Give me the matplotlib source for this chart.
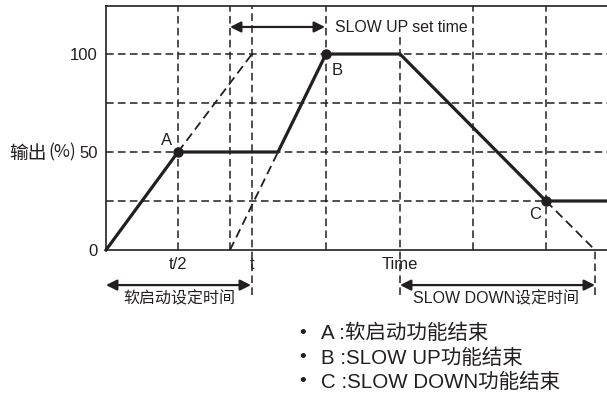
import matplotlib
matplotlib.use("Agg")
import matplotlib.pyplot as plt

plt.rcParams['font.family'] = ['Liberation Sans', 'Noto Sans CJK SC', 'DejaVu Sans']

INK = '#231f20'

# ---- data (arbitrary time units, output in %) ----
main_x = [0, 7.2, 17.2, 22.0, 29.4, 44.0, 50.1]
main_y = [0, 50, 50, 100, 100, 25, 25]

soft_ext_x = [7.2, 14.6]
soft_ext_y = [50, 100]
up_ext_x = [12.4, 17.2]
up_ext_y = [0, 50]
down_ext_x = [44.0, 48.9]
down_ext_y = [25, 0]

point_labels = ['A', 'B', 'C']
point_x = [7.2, 22.0, 44.0]
point_y = [50, 100, 25]

hgrid_y = [25, 50, 75, 100]
vgrid_x = [7.2, 12.4, 14.6, 22.0, 29.4, 36.7, 44.0, 48.9]
vgrid_lo = [0, 0, -23, 0, -23, 0, 0, -23]
vgrid_hi = [124.5, 124.5, 124.5, 124.5, 108.7, 124.5, 124.5, 0]

xtick_pos = [7.2, 14.6, 29.4]
xtick_labels = ['t/2', 't', 'Time']
ytick_pos = [0, 50, 100]
ytick_labels = ['0', '50', '100']
ylabel_main = '输出'
ylabel_unit = '(%)'

legend_lines = ['A :软启动功能结束', 'B :SLOW UP功能结束', 'C :SLOW DOWN功能结束']

W, H = 607, 404
fig = plt.figure(figsize=(W / 100, H / 100), dpi=100)
ax = fig.add_axes([106 / W, 1 - 250 / H, (607 - 106) / W, (250 - 6) / H])
ax.set_xlim(0, 50.1)
ax.set_ylim(0, 124.5)

for s in ['left', 'top', 'bottom']:
    ax.spines[s].set_color(INK)
    ax.spines[s].set_linewidth(1.2)
ax.spines['right'].set_visible(False)

dash = (0, (5.0, 2.8))
for y in hgrid_y:
    ax.plot([0, 50.1], [y, y], color=INK, lw=1.1, ls=dash, clip_on=False, zorder=1)
for x, lo, hi in zip(vgrid_x, vgrid_lo, vgrid_hi):
    ax.plot([x, x], [lo, hi], color=INK, lw=1.1, ls=dash, clip_on=False, zorder=1)

for xs, ys in [(soft_ext_x, soft_ext_y), (up_ext_x, up_ext_y), (down_ext_x, down_ext_y)]:
    ax.plot(xs, ys, color=INK, lw=1.3, ls=dash, zorder=2)

ax.plot(main_x, main_y, color=INK, lw=2.3, solid_joinstyle='miter', zorder=3, clip_on=False)
ax.plot(point_x, point_y, 'o', color=INK, ms=6.5, zorder=4)

lab_off = [(-1.1, 6), (1.1, -8.2), (-1.1, -7.1)]
for lab, x, y, (dx, dy) in zip(point_labels, point_x, point_y, lab_off):
    ax.text(x + dx, y + dy, lab, fontsize=12, color=INK, ha='center', va='center')

ax.set_xticks(xtick_pos)
ax.set_xticklabels(xtick_labels, fontsize=12, color=INK)
ax.set_yticks(ytick_pos)
ax.set_yticklabels(ytick_labels, fontsize=12, color=INK)
ax.tick_params(length=0, pad=6)
ax.tick_params(axis='x', pad=5)

# y label pieces next to the "50" tick
fig.text(47 / W, 1 - 153 / H, ylabel_main, fontsize=13.5, color=INK, ha='right', va='center',
         family=['Noto Sans CJK SC'])
fig.text(62.5 / W, 1 - 152.5 / H, ylabel_unit, fontsize=12.5, color=INK, ha='center', va='center',
         family=['Noto Sans CJK SC'])

arrow_kw = dict(arrowstyle='<|-|>', color=INK, lw=1.6, mutation_scale=16,
                shrinkA=0, shrinkB=0)
ax.annotate('', xy=(21.9, 113.8), xytext=(12.4, 113.8), arrowprops=arrow_kw,
            annotation_clip=False)
ax.text(22.9, 113.3, 'SLOW UP set time', fontsize=11.4, color=INK, ha='left', va='center')

ax.annotate('', xy=(14.5, -17.9), xytext=(0, -17.9), arrowprops=arrow_kw,
            annotation_clip=False)
ax.text(7.3, -24.8, '软启动设定时间', fontsize=11.5, color=INK, ha='center', va='center')

ax.annotate('', xy=(48.9, -17.9), xytext=(29.4, -17.9), arrowprops=arrow_kw,
            annotation_clip=False)
ax.text(39.0, -24.8, 'SLOW DOWN设定时间', fontsize=11.5, color=INK, ha='center', va='center')

legend_y = [333, 358, 382]
for txt, py in zip(legend_lines, legend_y):
    fig.text(303 / W, 1 - py / H, '•', fontsize=14, color=INK, ha='center', va='center')
    fig.text(321 / W, 1 - py / H, txt, fontsize=14.8, color=INK, ha='left', va='center')

fig.savefig('out.png', dpi=100)
